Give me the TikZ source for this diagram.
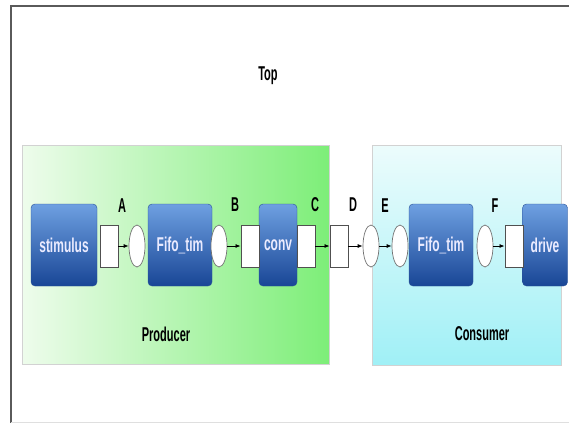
\documentclass[tikz,border=0pt]{standalone}
\usepackage{fontspec}
\setmainfont{Liberation Sans}
\newfontfamily\tagfont[FakeStretch=0.55]{Liberation Sans}
\newfontfamily\boxfont[FakeStretch=0.6]{Liberation Sans}
\usetikzlibrary{shapes.geometric,arrows.meta}

\definecolor{framegray}{RGB}{90,90,90}
\definecolor{blocktop}{RGB}{110,160,225}
\definecolor{blockbot}{RGB}{25,70,150}
\definecolor{blockedge}{RGB}{40,80,150}
\definecolor{portedge}{RGB}{80,80,80}
\definecolor{prodleft}{RGB}{238,252,236}
\definecolor{prodright}{RGB}{125,238,120}
\definecolor{constop}{RGB}{236,252,252}
\definecolor{consbot}{RGB}{160,240,246}

\begin{document}
\begin{tikzpicture}[x=1pt,y=-1pt,
    block/.style={rectangle,rounded corners=4pt,draw=blockedge,top color=blocktop,
      bottom color=blockbot,text=white!92!blue,minimum height=82pt,inner sep=0pt,
      font=\boxfont\bfseries\fontsize{20}{20}\selectfont},
    sqport/.style={rectangle,draw=portedge,fill=white,line width=0.9pt,
      minimum width=18pt,minimum height=42pt,inner sep=0pt},
    elport/.style={ellipse,draw=portedge!80,fill=white,line width=0.7pt,
      minimum width=16pt,minimum height=42pt,inner sep=0pt},
    link/.style={-{Latex[length=5pt,width=4pt]},line width=0.8pt},
    tag/.style={font=\tagfont\bfseries\fontsize{20}{20}\selectfont}]
  \useasboundingbox (0,0) rectangle (569,423);
  % outer frame
  \draw[framegray,line width=1.6pt] (11,423) -- (11,6) -- (569,6);
  \draw[gray!25] (11,422) -- (569,422);
  \node[tag] (top) at (268,76) {Top};
  % producer and consumer areas
  \path[draw=gray!35,left color=prodleft,right color=prodright] (22,145) rectangle (329,364);
  \path[draw=gray!35,top color=constop,bottom color=consbot] (372,145) rectangle (561,365);
  \node[tag] (producer) at (166,334) {Producer};
  \node[tag] (consumer) at (482,334) {Consumer};
  % blocks
  \node[block,minimum width=66pt] (stimulus) at (64,245) {stimulus};
  \node[block,minimum width=64pt] (fifoA) at (180,245) {Fifo\_tim};
  \node[block,minimum width=38pt] (conv) at (278,245) {conv};
  \node[block,minimum width=64pt] (fifoB) at (441,245) {Fifo\_tim};
  \node[block,minimum width=45pt] (drive) at (545,245) {drive};
  % ports
  \node[sqport] (pA) at (109,246) {};
  \node[elport] (qA) at (137,246) {};
  \node[elport] (qB) at (219,246) {};
  \node[sqport] (pB) at (250,246) {};
  \node[sqport] (pC) at (306,246) {};
  \node[sqport] (pD) at (339,246) {};
  \node[elport] (qD) at (371,246) {};
  \node[elport] (qE) at (400,246) {};
  \node[elport] (qF) at (485,246) {};
  \node[sqport] (pF) at (514,246) {};
  % channel names
  \node[tag] (A) at (122,206) {A};
  \node[tag] (B) at (235,205) {B};
  \node[tag] (C) at (315,205) {C};
  \node[tag] (D) at (353,205) {D};
  \node[tag] (E) at (385,206) {E};
  \node[tag] (F) at (495,206) {F};
  % links
  \draw[link] (pA) -- (qA);
  \draw[link] (qB) -- (pB);
  \draw[link] (pC) -- (pD);
  \draw[link] (pD) -- (qD);
  \draw[link] (qD) -- (qE);
  \draw[link] (qF) -- (pF);
\end{tikzpicture}
\end{document}
